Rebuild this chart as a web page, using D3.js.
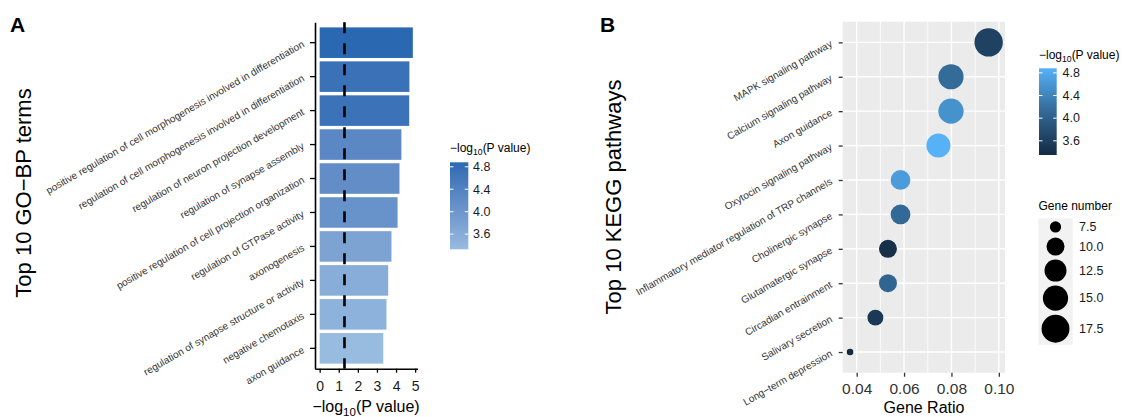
<!DOCTYPE html>
<html>
<head>
<meta charset="utf-8">
<script src="https://cdn.jsdelivr.net/npm/d3@7"></script>
<style>
  body { margin: 0; background: #fff; }
  svg { font-family: "Liberation Sans", Arial, Helvetica, sans-serif; }
</style>
</head>
<body>
<script>
// ---- data ----
const goTerms = [
  'positive regulation of cell morphogenesis involved in differentiation',
  'regulation of cell morphogenesis involved in differentiation',
  'regulation of neuron projection development',
  'regulation of synapse assembly',
  'positive regulation of cell projection organization',
  'regulation of GTPase activity',
  'axonogenesis',
  'regulation of synapse structure or activity',
  'negative chemotaxis',
  'axon guidance'
];
const goLogP = [4.88, 4.70, 4.69, 4.28, 4.18, 4.08, 3.76, 3.59, 3.50, 3.33];

const keggPathways = [
  'MAPK signaling pathway',
  'Calcium signaling pathway',
  'Axon guidance',
  'Oxytocin signaling pathway',
  'Inflammatory mediator regulation of TRP channels',
  'Cholinergic synapse',
  'Glutamatergic synapse',
  'Circadian entrainment',
  'Salivary secretion',
  'Long−term depression'
];
const keggRatio = [0.0957, 0.0798, 0.0798, 0.0745, 0.0585, 0.0585, 0.0532, 0.0532, 0.0479, 0.0372];
const keggCount = [18, 15, 15, 14, 11, 11, 10, 10, 9, 7];
const keggLogP = [3.64, 4.12, 4.55, 4.88, 4.66, 4.10, 3.42, 4.06, 3.53, 3.35];

const goXTicks = [0, 1, 2, 3, 4, 5];
const keggXTicks = [0.04, 0.06, 0.08, 0.10];
const keggMinorTicks = [0.05, 0.07, 0.09];
const colorTicks = [3.6, 4.0, 4.4, 4.8];
const sizeBreaks = [7.5, 10, 12.5, 15, 17.5];
const pCutoff = 1.3;   // -log10(0.05)

const W = 1123, H = 417;

const svg = d3.select('body').append('svg')
    .attr('width', W)
    .attr('height', H);

svg.append('rect').attr('width', W).attr('height', H).attr('fill', '#fff');

// little helper for the "-log10(P value)" label with subscript
function logPLabel(sel, size) {
  sel.append('tspan').text('−log');
  sel.append('tspan').attr('font-size', size * 0.72).attr('dy', size * 0.28).text('10');
  sel.append('tspan').attr('dy', -size * 0.28).text('(P value)');
}

// ================= Panel A =================
const gA = svg.append('g');

const xA = d3.scaleLinear()
    .domain([-0.244, 5.124])
    .range([315, 417.5]);

const yA = d3.scaleBand()
    .domain(goTerms)
    .range([22.3, 368.7])
    .paddingInner(0.1)
    .paddingOuter(0.15);

const colA = d3.scaleLinear()
    .domain(d3.extent(goLogP))
    .range(['#98bbe0', '#2a69b2'])
    .interpolate(d3.interpolateLab);

gA.selectAll('.bar')
  .data(goTerms)
  .join('rect')
    .attr('class', 'bar')
    .attr('x', xA(0))
    .attr('y', d => yA(d))
    .attr('width', (d, i) => xA(goLogP[i]) - xA(0))
    .attr('height', yA.bandwidth())
    .attr('fill', (d, i) => colA(goLogP[i]));

// dashed cutoff line
gA.append('line')
    .attr('x1', xA(pCutoff)).attr('x2', xA(pCutoff))
    .attr('y1', 22.3).attr('y2', 368.7)
    .attr('stroke', '#000')
    .attr('stroke-width', 2.6)
    .attr('stroke-dasharray', '11,10');

// axes
const xAxisA = gA.append('g')
    .attr('transform', 'translate(0,368.7)')
    .call(d3.axisBottom(xA).tickValues(goXTicks).tickFormat(d3.format('d'))
      .tickSize(4).tickSizeOuter(0).tickPadding(8));
const yAxisA = gA.append('g')
    .attr('transform', `translate(${xA.range()[0]},0)`)
    .call(d3.axisLeft(yA).tickSize(5).tickSizeOuter(0).tickFormat(''));

[xAxisA, yAxisA].forEach(a => {
  a.select('.domain').attr('stroke', '#000').attr('stroke-width', 1.6);
  a.selectAll('.tick line').attr('stroke', '#000').attr('stroke-width', 1.3);
});
xAxisA.selectAll('.tick text')
    .attr('font-size', 14)
    .attr('fill', '#1a1a1a');

gA.selectAll('.ylab')
  .data(goTerms)
  .join('text')
    .attr('class', 'ylab')
    .attr('transform', d => `translate(305,${yA(d) + yA.bandwidth() / 2 + 3.5}) rotate(-30)`)
    .attr('text-anchor', 'end')
    .attr('font-size', 10.1)
    .attr('fill', '#333')
    .text(d => d);

gA.append('text')
    .attr('x', 366).attr('y', 412)
    .attr('text-anchor', 'middle')
    .attr('font-size', 16)
    .call(logPLabel, 16);

gA.append('text')
    .attr('transform', 'translate(31,193) rotate(-90)')
    .attr('text-anchor', 'middle')
    .attr('font-size', 22)
    .text('Top 10 GO−BP terms');

svg.append('text')
    .attr('x', 10).attr('y', 31.5)
    .attr('font-size', 21).attr('font-weight', 'bold')
    .text('A');

// legend A
const legA = svg.append('g');
const cbA = d3.scaleLinear().domain(d3.extent(goLogP)).range([249.3, 162.3]);
const gradA = svg.append('defs').append('linearGradient')
    .attr('id', 'gradA').attr('x1', 0).attr('x2', 0).attr('y1', 1).attr('y2', 0);
d3.range(0, 1.0001, 0.1).forEach(t => {
  const v = cbA.domain()[0] + t * (cbA.domain()[1] - cbA.domain()[0]);
  gradA.append('stop').attr('offset', t).attr('stop-color', colA(v));
});
legA.append('text')
    .attr('x', 450).attr('y', 152)
    .attr('font-size', 12)
    .call(logPLabel, 12);
legA.append('rect')
    .attr('x', 450).attr('y', 162.3)
    .attr('width', 18.3).attr('height', 87)
    .attr('fill', 'url(#gradA)');
colorTicks.forEach(v => {
  legA.append('line').attr('x1', 450).attr('x2', 453.5)
      .attr('y1', cbA(v)).attr('y2', cbA(v)).attr('stroke', '#fff');
  legA.append('line').attr('x1', 464.8).attr('x2', 468.3)
      .attr('y1', cbA(v)).attr('y2', cbA(v)).attr('stroke', '#fff');
  legA.append('text')
      .attr('x', 473).attr('y', cbA(v) + 4.3)
      .attr('font-size', 12.5).attr('fill', '#1a1a1a')
      .text(v.toFixed(1));
});

// ================= Panel B =================
const gB = svg.append('g');

const xB = d3.scaleLinear()
    .domain([0.0341, 0.1026])
    .range([842.7, 1005]);

const yB = d3.scalePoint()
    .domain(keggPathways)
    .range([21.7, 372.7])
    .padding(0.6);

const colB = d3.scaleLinear()
    .domain(d3.extent(keggLogP))
    .range(['#132B43', '#56B1F7'])
    .interpolate(d3.interpolateLab);

const cMin = d3.min(keggCount), cMax = d3.max(keggCount);
const rB = d3.scaleSqrt()
    .domain([0, cMax - cMin])
    .range([3.3, 14.2]);
const radius = n => rB(Math.max(0, n - cMin));

gB.append('rect')
    .attr('x', 842.7).attr('y', 21.7)
    .attr('width', 1005 - 842.7).attr('height', 372.7 - 21.7)
    .attr('fill', '#ebebeb');

gB.selectAll('.minor')
  .data(keggMinorTicks)
  .join('line')
    .attr('x1', d => xB(d)).attr('x2', d => xB(d))
    .attr('y1', 21.7).attr('y2', 372.7)
    .attr('stroke', '#fff').attr('stroke-width', 0.8);
gB.selectAll('.vmajor')
  .data(keggXTicks)
  .join('line')
    .attr('x1', d => xB(d)).attr('x2', d => xB(d))
    .attr('y1', 21.7).attr('y2', 372.7)
    .attr('stroke', '#fff').attr('stroke-width', 1.4);
gB.selectAll('.hmajor')
  .data(keggPathways)
  .join('line')
    .attr('x1', 842.7).attr('x2', 1005)
    .attr('y1', d => yB(d)).attr('y2', d => yB(d))
    .attr('stroke', '#fff').attr('stroke-width', 1.4);

gB.selectAll('.dot')
  .data(keggPathways)
  .join('circle')
    .attr('class', 'dot')
    .attr('cx', (d, i) => xB(keggRatio[i]))
    .attr('cy', d => yB(d))
    .attr('r', (d, i) => radius(keggCount[i]))
    .attr('fill', (d, i) => colB(keggLogP[i]));

const xAxisB = gB.append('g')
    .attr('transform', 'translate(0,372.7)')
    .call(d3.axisBottom(xB).tickValues(keggXTicks).tickFormat(d3.format('.2f'))
      .tickSize(4).tickSizeOuter(0).tickPadding(6));
const yAxisB = gB.append('g')
    .attr('transform', 'translate(842.7,0)')
    .call(d3.axisLeft(yB).tickSize(4).tickSizeOuter(0).tickFormat(''));
[xAxisB, yAxisB].forEach(a => {
  a.select('.domain').remove();
  a.selectAll('.tick line').attr('stroke', '#333').attr('stroke-width', 1.3);
});
xAxisB.selectAll('.tick text')
    .attr('font-size', 15.5)
    .attr('fill', '#333');

gB.selectAll('.ylab')
  .data(keggPathways)
  .join('text')
    .attr('class', 'ylab')
    .attr('transform', d => `translate(833,${yB(d) + 3.5}) rotate(-30)`)
    .attr('text-anchor', 'end')
    .attr('font-size', 10.1)
    .attr('fill', '#333')
    .text(d => d);

gB.append('text')
    .attr('x', 924).attr('y', 413)
    .attr('text-anchor', 'middle')
    .attr('font-size', 16)
    .text('Gene Ratio');

gB.append('text')
    .attr('transform', 'translate(621,197) rotate(-90)')
    .attr('text-anchor', 'middle')
    .attr('font-size', 22)
    .text('Top 10 KEGG pathways');

svg.append('text')
    .attr('x', 600).attr('y', 31.5)
    .attr('font-size', 21).attr('font-weight', 'bold')
    .text('B');

// legend B: colour
const legB = svg.append('g');
const cbB = d3.scaleLinear().domain(d3.extent(keggLogP)).range([155, 68.3]);
const gradB = svg.select('defs').append('linearGradient')
    .attr('id', 'gradB').attr('x1', 0).attr('x2', 0).attr('y1', 1).attr('y2', 0);
d3.range(0, 1.0001, 0.1).forEach(t => {
  const v = cbB.domain()[0] + t * (cbB.domain()[1] - cbB.domain()[0]);
  gradB.append('stop').attr('offset', t).attr('stop-color', colB(v));
});
legB.append('text')
    .attr('x', 1039).attr('y', 59)
    .attr('font-size', 12)
    .call(logPLabel, 12);
legB.append('rect')
    .attr('x', 1039).attr('y', 68.3)
    .attr('width', 17.7).attr('height', 155 - 68.3)
    .attr('fill', 'url(#gradB)');
colorTicks.forEach(v => {
  legB.append('line').attr('x1', 1039).attr('x2', 1042.5)
      .attr('y1', cbB(v)).attr('y2', cbB(v)).attr('stroke', '#fff');
  legB.append('line').attr('x1', 1053.2).attr('x2', 1056.7)
      .attr('y1', cbB(v)).attr('y2', cbB(v)).attr('stroke', '#fff');
  legB.append('text')
      .attr('x', 1062.5).attr('y', cbB(v) + 4.3)
      .attr('font-size', 12.5).attr('fill', '#1a1a1a')
      .text(v.toFixed(1));
});

// legend B: size
legB.append('text')
    .attr('x', 1038.5).attr('y', 210)
    .attr('font-size', 12)
    .text('Gene number');

let ky = 218.3;
const keys = sizeBreaks.map(v => {
  const r = radius(v);
  const h = Math.max(17.3, 2 * r + 4);
  const k = { v, r, y: ky, h };
  ky += h;
  return k;
});
legB.append('rect')
    .attr('x', 1038.3).attr('y', 218.3)
    .attr('width', 34.4).attr('height', ky - 218.3)
    .attr('fill', '#f2f2f2');
legB.selectAll('.skey')
  .data(keys)
  .join('circle')
    .attr('cx', 1055.5)
    .attr('cy', d => d.y + d.h / 2)
    .attr('r', d => d.r)
    .attr('fill', '#000');
legB.selectAll('.slab')
  .data(keys)
  .join('text')
    .attr('x', 1079)
    .attr('y', d => d.y + d.h / 2 + 4.3)
    .attr('font-size', 12.5)
    .attr('fill', '#1a1a1a')
    .text(d => d.v.toFixed(1));
</script>
</body>
</html>
